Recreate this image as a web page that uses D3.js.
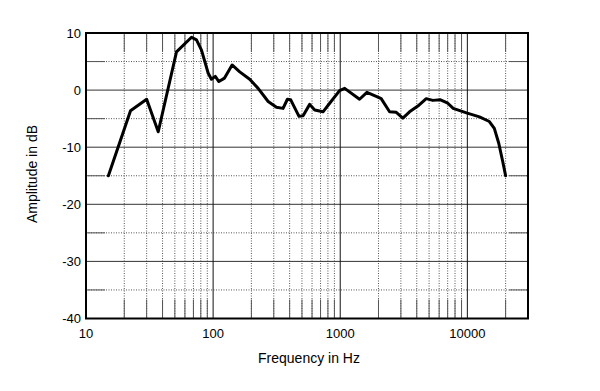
<!DOCTYPE html>
<html>
<head>
<meta charset="utf-8">
<script src="https://cdnjs.cloudflare.com/ajax/libs/d3/7.8.5/d3.min.js"></script>
<style>
	body { margin: 0; background: #fff; }
	svg text { font-family: "Liberation Sans", Arial, sans-serif; fill: #000; }
</style>
</head>
<body>
<svg id="plot" width="600" height="391"></svg>
<script>
	// response curve
	var freqs = [15, 22.4, 30, 37, 51.5, 67.6, 74, 81, 91.5, 97, 104, 111, 123, 141, 162, 194, 226,
		271, 315, 355, 384, 408, 474, 510, 575, 630, 732, 826, 988, 1084, 1419, 1622, 1920, 2100,
		2445, 2760, 3110, 3510, 4080, 4750, 5350, 6150, 7020, 7740, 9840, 12450, 14900, 16300,
		17660, 18980, 20000];
	var amps = [-15, -3.6, -1.6, -7.3, 6.7, 9.25, 8.8, 7.0, 2.95, 1.9, 2.4, 1.5, 2.1, 4.4, 3.2, 1.9, 0.3,
		-2.0, -3.0, -3.2, -1.6, -1.7, -4.6, -4.5, -2.5, -3.5, -3.8, -2.3, -0.1, 0.3, -1.6, -0.4, -1.1, -1.5,
		-3.8, -3.9, -4.9, -3.8, -2.8, -1.5, -1.8, -1.7, -2.3, -3.2, -4.0, -4.7, -5.5, -6.7,
		-9.3, -12.5, -15];

	var yTicks = [10, 0, -10, -20, -30, -40];
	var yHalf = [5, -5, -15, -25, -35];
	var xTicks = [10, 100, 1000, 10000];

	var pLeft = 86, pRight = 528, pTop = 33, pBottom = 318.5;
	var svg = d3.select("#plot");

	var x = d3.scaleLog().domain([10, 30000]).range([pLeft, pRight]);
	var y = d3.scaleLinear().domain([-40, 10]).range([pBottom, pTop]);

	// minor frequencies 20..90, 200..900 etc
	var minor = [];
	[10, 100, 1000].forEach(function(dec){
		d3.range(2, 10).forEach(function(m){ minor.push(dec * m); });
	});
	minor.push(20000);

	var g = svg.append("g");

	g.selectAll(".vminor").data(minor).enter()
		.append("line")
		.attr("x1", function(d){ return x(d); })
		.attr("x2", function(d){ return x(d); })
		.attr("y1", pTop).attr("y2", pBottom)
		.style("stroke", "#555")
		.style("stroke-dasharray", "1,1.5");

	g.selectAll(".hminor").data(yHalf).enter()
		.append("line")
		.attr("x1", pLeft).attr("x2", pRight)
		.attr("y1", function(d){ return y(d); })
		.attr("y2", function(d){ return y(d); })
		.style("stroke", "#555")
		.style("stroke-dasharray", "1,1.5");

	// short solid ticks on the edges
	var tk = 19;
	minor.forEach(function(d){
		g.append("line").attr("x1", x(d)).attr("x2", x(d)).attr("y1", pTop).attr("y2", pTop + tk)
			.style("stroke", "#555");
		g.append("line").attr("x1", x(d)).attr("x2", x(d)).attr("y1", pBottom - tk).attr("y2", pBottom)
			.style("stroke", "#555");
	});
	yHalf.forEach(function(d){
		g.append("line").attr("x1", pLeft).attr("x2", pLeft + tk).attr("y1", y(d)).attr("y2", y(d))
			.style("stroke", "#555");
		g.append("line").attr("x1", pRight - tk).attr("x2", pRight).attr("y1", y(d)).attr("y2", y(d))
			.style("stroke", "#555");
	});

	g.selectAll(".hmajor").data(yTicks).enter()
		.append("line")
		.attr("x1", pLeft).attr("x2", pRight)
		.attr("y1", function(d){ return y(d); })
		.attr("y2", function(d){ return y(d); })
		.style("stroke", "#333");

	g.selectAll(".vmajor").data(xTicks).enter()
		.append("line")
		.attr("x1", function(d){ return x(d); })
		.attr("x2", function(d){ return x(d); })
		.attr("y1", pTop).attr("y2", pBottom)
		.style("stroke", "#111");

	// frame
	svg.append("rect")
		.attr("x", pLeft).attr("y", pTop)
		.attr("width", pRight - pLeft).attr("height", pBottom - pTop)
		.style("fill", "none").style("stroke", "#000").style("stroke-width", 2);

	// labels
	svg.selectAll(".ylab").data(yTicks).enter()
		.append("text")
		.attr("x", pLeft - 5)
		.attr("y", function(d){ return y(d) + 4.5; })
		.attr("text-anchor", "end")
		.style("font-size", "13px")
		.text(function(d){ return d; });

	svg.selectAll(".xlab").data(xTicks).enter()
		.append("text")
		.attr("x", function(d){ return x(d); })
		.attr("y", 338)
		.attr("text-anchor", "middle")
		.style("font-size", "13px")
		.text(function(d){ return d; });

	svg.append("text")
		.attr("x", 309).attr("y", 363)
		.attr("text-anchor", "middle")
		.style("font-size", "14px")
		.text("Frequency  in Hz");

	svg.append("text")
		.attr("transform", "translate(37,174) rotate(-90)")
		.attr("text-anchor", "middle")
		.style("font-size", "14px")
		.text("Amplitude in dB");

	// curve
	var line = d3.line()
		.x(function(d, i){ return x(freqs[i]); })
		.y(function(d){ return y(d); })
		.curve(d3.curveLinear);

	svg.append("path")
		.attr("d", line(amps))
		.style("fill", "none")
		.style("stroke", "#000")
		.style("stroke-width", 3)
		.style("stroke-linejoin", "round")
		.style("stroke-linecap", "round");
</script>
</body>
</html>
